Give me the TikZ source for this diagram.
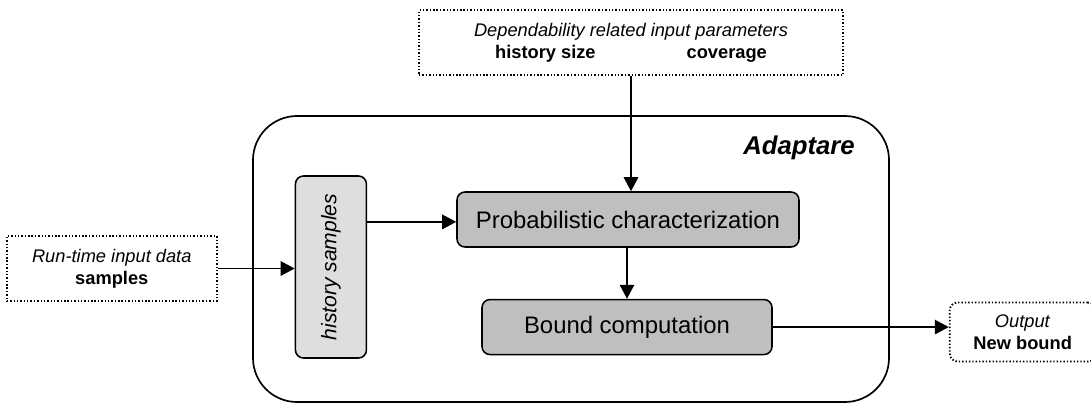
\documentclass[tikz,border=0pt]{standalone}
\usepackage{fontspec}
\setmainfont{Liberation Sans}
\usepackage{graphicx}
\usetikzlibrary{arrows.meta, positioning}

\begin{document}
\begin{tikzpicture}[->, >={Triangle[length=0.35cm, width=0.36cm]}, line width=1.3pt,
    block/.style={draw, line width=1.1pt, rounded corners=0.2cm, fill=black!25, minimum height=1.375cm, font=\fontsize{17}{20}\selectfont},
    store/.style={draw, line width=1.1pt, rounded corners=0.2cm, fill=black!13, minimum width=1.775cm, minimum height=4.55cm, font=\fontsize{15}{18}\selectfont\itshape},
    io/.style={draw, line width=1.3pt, dash pattern=on 1pt off 1.4pt, align=center, font=\fontsize{13}{15.5}\selectfont},
    frame/.style={draw, line width=1.2pt, rounded corners=1.1cm, minimum width=15.9cm, minimum height=7.15cm}]
    \useasboundingbox (0,0) rectangle (27.275,-10.075);

    \node[frame] (adaptare) at (14.275,-6.475) {};
    \node[font=\fontsize{18.3}{22}\selectfont\bfseries\itshape] (title) at (19.975,-3.7) {Adaptare};

    \node[block, minimum width=8.55cm] (prob) at (15.7,-5.4875) {Probabilistic characterization};
    \node[block, minimum width=7.25cm] (bound) [below=1.275cm of prob, xshift=-0.025cm] {Bound computation};
    \node[store] (hist) [left=2.225cm of prob, yshift=-1.1875cm] {\rotatebox{90}{history samples}};

    \node[io, minimum width=10.6cm, minimum height=1.625cm] (params) [above=2.875cm of prob, xshift=0.075cm]
        {\textit{Dependability related input parameters}\\\textbf{history size}\hspace{2.275cm}\textbf{coverage}};
    \node[io, minimum width=5.25cm, minimum height=1.625cm] (runtime) [left=1.925cm of hist, yshift=-0.0375cm]
        {\textit{Run-time input data}\\\textbf{samples}};
    \node[io, rounded corners=0.2cm, minimum width=3.65cm, minimum height=1.475cm] (output) [right=4.4cm of bound, yshift=-0.125cm]
        {\textit{Output}\\\textbf{New bound}};

    \path
    (params) edge (prob.north -| params)
    (runtime) edge (runtime -| hist.west)
    ([yshift=-0.06cm]hist.east |- prob) edge ([yshift=-0.06cm]prob.west)
    (prob.south -| bound) edge (bound)
    (bound) edge (bound -| output.west);
\end{tikzpicture}
\end{document}
